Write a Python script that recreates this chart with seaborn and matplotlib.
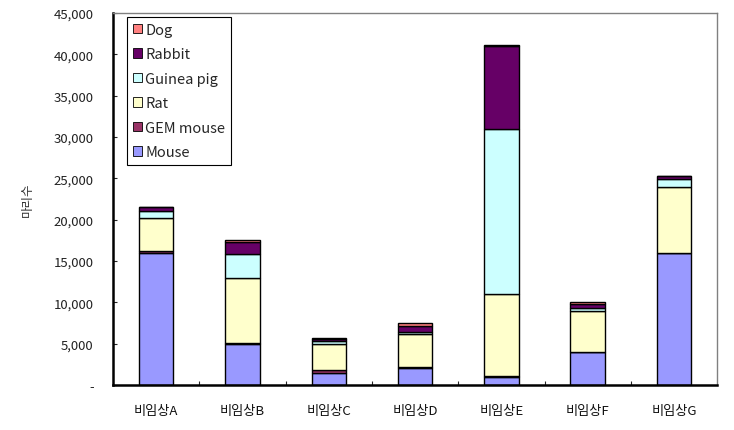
import numpy as np
import pandas as pd
import matplotlib
matplotlib.use('Agg')
import matplotlib.pyplot as plt
import seaborn as sns
from matplotlib.patches import Patch
from matplotlib.ticker import FuncFormatter, FixedLocator

# === DATOS ===
categories = ['비임상A', '비임상B', '비임상C', '비임상D', '비임상E', '비임상F', '비임상G']
species = ['Mouse', 'GEM mouse', 'Rat', 'Guinea pig', 'Rabbit', 'Dog']

mouse = [16000, 5000, 1500, 2000, 1000, 4000, 16000]
gem_mouse = [150, 50, 300, 150, 100, 50, 0]
rat = [4000, 7900, 3100, 4000, 9900, 4850, 7900]
guinea_pig = [900, 2900, 400, 300, 20000, 400, 1000]
rabbit = [500, 1400, 300, 700, 10000, 550, 400]
dog = [0, 300, 100, 400, 150, 250, 0]

colors = ['#9999FF', '#993366', '#FFFFCC', '#CCFFFF', '#660066', '#FF8080']

layers = [mouse, gem_mouse, rat, guinea_pig, rabbit, dog]

# === FIGURA ===
sns.set_style('white')
plt.rcParams['font.family'] = ['Noto Sans CJK KR', 'DejaVu Sans']

fig = plt.figure(figsize=(7.34, 4.31), dpi=100)
ax = fig.add_axes([0.154, 0.1044, 0.823, 0.8631])

bottom = np.zeros(len(categories))
for name, vals, col in zip(species, layers, colors):
    sns.barplot(x=categories, y=vals, bottom=bottom, color=col, width=0.4,
                edgecolor='black', linewidth=1.0, ax=ax, label=name,
                saturation=1)
    bottom = bottom + np.array(vals)

ax.set_ylim(0, 45000)
ax.set_xlim(-0.5, len(categories) - 0.5)
ax.set_yticks(np.arange(0, 45001, 5000))
ax.yaxis.set_major_formatter(FuncFormatter(lambda v, p: '-' if v == 0 else f'{int(v):,}'))
ax.set_ylabel('마리수', fontsize=9, color='#333333', labelpad=14)
ax.set_xlabel('')

# Ejes
for s in ['left', 'bottom']:
    ax.spines[s].set_color('black')
    ax.spines[s].set_linewidth(1.8)
for s in ['top', 'right']:
    ax.spines[s].set_color('#808080')
    ax.spines[s].set_linewidth(1.0)

ax.tick_params(axis='y', which='major', direction='in', length=3, width=0.8,
               labelsize=9.5, labelcolor='#222222', pad=14, left=True)
ax.tick_params(axis='x', which='major', length=0, labelsize=9.5, labelcolor='#111111', pad=14)
ax.xaxis.set_minor_locator(FixedLocator(np.arange(0.5, len(categories) - 1, 1)))
ax.tick_params(axis='x', which='minor', direction='in', length=3, width=0.8, bottom=True)

# Leyenda (orden inverso)
handles = [Patch(facecolor=c, edgecolor='black', linewidth=0.6) for c in colors][::-1]
labels = species[::-1]
leg = ax.legend(handles, labels, loc='upper left', bbox_to_anchor=(0.023, 0.99),
                fontsize=10.5, frameon=True, fancybox=False, framealpha=1,
                edgecolor='black', handlelength=0.6, handleheight=0.6,
                handletextpad=0.25, labelspacing=0.72, borderpad=0.4,
                borderaxespad=0)
leg.get_frame().set_linewidth(0.8)

fig.savefig('out.png', dpi=100)
